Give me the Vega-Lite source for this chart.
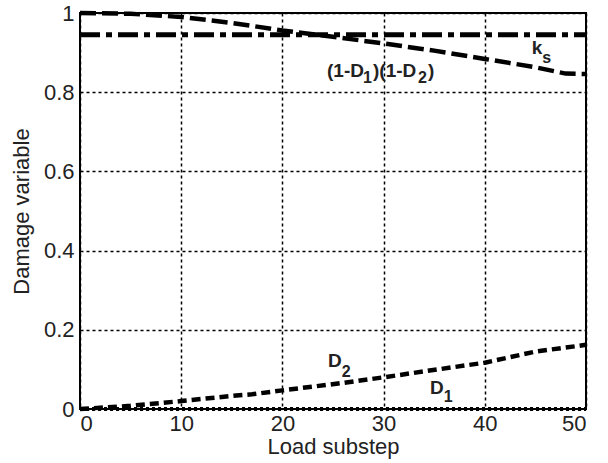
{
  "$schema": "https://vega.github.io/schema/vega-lite/v6.json",
  "width": 506,
  "height": 396,
  "autosize": {"type": "none"},
  "padding": {"left": 80, "top": 13, "right": 22, "bottom": 54},
  "background": "white",
  "config": {
    "view": {"stroke": "black", "strokeWidth": 2},
    "font": "Liberation Sans",
    "axis": {
      "labelFont": "Liberation Sans",
      "titleFont": "Liberation Sans",
      "labelFontSize": 22,
      "titleFontSize": 22,
      "titleFontWeight": "normal",
      "labelColor": "#222",
      "titleColor": "#222",
      "domain": false,
      "ticks": false,
      "grid": true,
      "gridColor": "black",
      "gridDash": [3, 3],
      "gridWidth": 1.5,
      "gridOpacity": 1
    }
  },
  "datasets": {
    "ks": [
      {"step": 0, "value": 0.945},
      {"step": 50, "value": 0.945}
    ],
    "prod": [
      {"step": 0, "value": 1.0},
      {"step": 5, "value": 0.998},
      {"step": 10, "value": 0.99},
      {"step": 15, "value": 0.975},
      {"step": 20, "value": 0.956},
      {"step": 25, "value": 0.94},
      {"step": 30, "value": 0.923},
      {"step": 35, "value": 0.905},
      {"step": 40, "value": 0.884},
      {"step": 45, "value": 0.863},
      {"step": 48, "value": 0.847},
      {"step": 50, "value": 0.846}
    ],
    "d2": [
      {"step": 0, "value": 0.0},
      {"step": 5, "value": 0.008},
      {"step": 10, "value": 0.02},
      {"step": 15, "value": 0.033},
      {"step": 17, "value": 0.037},
      {"step": 20, "value": 0.047},
      {"step": 26, "value": 0.066},
      {"step": 30, "value": 0.08},
      {"step": 34, "value": 0.095},
      {"step": 40, "value": 0.117},
      {"step": 45, "value": 0.145},
      {"step": 50, "value": 0.162}
    ],
    "d1": [
      {"step": 0, "value": 0.0},
      {"step": 50, "value": 0.0}
    ],
    "mainLabels": [
      {"t": "(1-D", "x": 24.41, "y": 0.838},
      {"t": ")(1-D", "x": 28.95, "y": 0.838},
      {"t": ")", "x": 34.39, "y": 0.838},
      {"t": "k", "x": 44.63, "y": 0.896},
      {"t": "D", "x": 24.51, "y": 0.105},
      {"t": "D", "x": 34.58, "y": 0.037}
    ],
    "subLabels": [
      {"t": "1", "x": 27.96, "y": 0.822},
      {"t": "2", "x": 33.4, "y": 0.823},
      {"t": "s", "x": 45.68, "y": 0.875},
      {"t": "2", "x": 25.86, "y": 0.082},
      {"t": "1", "x": 35.94, "y": 0.018}
    ]
  },
  "layer": [
    {
      "data": {"name": "ks"},
      "mark": {"type": "line", "color": "black", "strokeWidth": 5, "strokeDash": [20, 6, 6, 6], "strokeCap": "butt"},
      "encoding": {
        "x": {"field": "step", "type": "quantitative", "scale": {"domain": [0, 50], "nice": false}, "axis": {"values": [0, 10, 20, 30, 40, 50], "title": "Load substep", "labelPadding": 4, "titlePadding": 2}},
        "y": {"field": "value", "type": "quantitative", "scale": {"domain": [0, 1], "nice": false}, "axis": {"values": [0, 0.2, 0.4, 0.6, 0.8, 1], "format": "~g", "title": "Damage variable", "labelPadding": 6, "titlePadding": 10}}
      }
    },
    {
      "data": {"name": "prod"},
      "mark": {"type": "line", "color": "black", "strokeWidth": 4.5, "strokeDash": [16, 6], "strokeCap": "butt"},
      "encoding": {
        "x": {"field": "step", "type": "quantitative"},
        "y": {"field": "value", "type": "quantitative"}
      }
    },
    {
      "data": {"name": "d2"},
      "mark": {"type": "line", "color": "black", "strokeWidth": 4.5, "strokeDash": [9, 5], "strokeCap": "butt"},
      "encoding": {
        "x": {"field": "step", "type": "quantitative"},
        "y": {"field": "value", "type": "quantitative"}
      }
    },
    {
      "data": {"name": "d1"},
      "mark": {"type": "line", "color": "black", "strokeWidth": 4, "strokeDash": [3, 3], "strokeCap": "butt"},
      "encoding": {
        "x": {"field": "step", "type": "quantitative"},
        "y": {"field": "value", "type": "quantitative"}
      }
    },
    {
      "data": {"name": "mainLabels"},
      "mark": {"type": "text", "align": "left", "baseline": "alphabetic", "fontSize": 19, "fontWeight": "bold", "color": "#222", "font": "Liberation Sans"},
      "encoding": {
        "x": {"field": "x", "type": "quantitative"},
        "y": {"field": "y", "type": "quantitative"},
        "text": {"field": "t"}
      }
    },
    {
      "data": {"name": "subLabels"},
      "mark": {"type": "text", "align": "left", "baseline": "alphabetic", "fontSize": 16, "fontWeight": "bold", "color": "#222", "font": "Liberation Sans"},
      "encoding": {
        "x": {"field": "x", "type": "quantitative"},
        "y": {"field": "y", "type": "quantitative"},
        "text": {"field": "t"}
      }
    }
  ]
}
